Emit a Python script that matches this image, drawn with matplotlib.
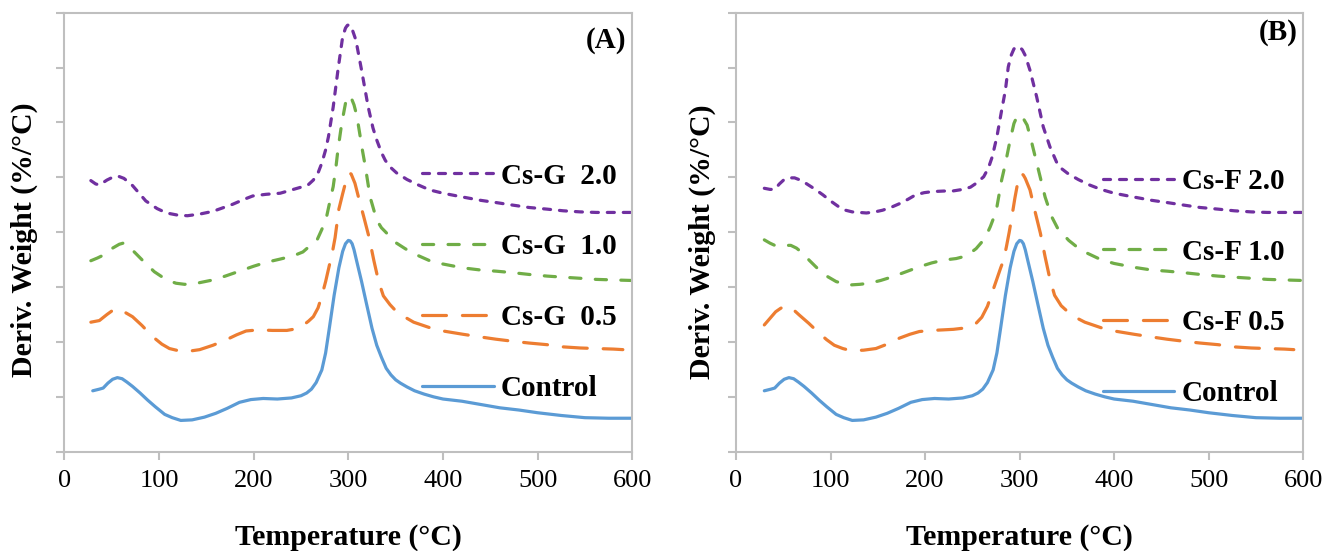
import matplotlib
matplotlib.use("Agg")
import matplotlib.pyplot as plt

plt.rcParams['font.family'] = ['Liberation Serif', 'DejaVu Serif']

# DTG curves, y in arbitrary units (curves are offset vertically)
t_ctrl = [30, 37, 41, 46, 51, 56, 61, 66, 72, 80, 88, 96, 106, 114, 123, 135, 148, 160, 172, 185,
          197, 210, 225, 240, 250, 256, 261, 266, 272, 276, 280, 285, 290, 294, 297, 300, 302, 304,
          306, 309, 314, 319, 325, 330, 335, 340, 345, 350, 355, 362, 370, 380, 390, 400, 420, 440,
          460, 480, 500, 525, 550, 575, 600]
y_ctrl = [1.11, 1.14, 1.16, 1.25, 1.32, 1.35, 1.33, 1.27, 1.19, 1.07, 0.94, 0.82, 0.68, 0.62, 0.57,
          0.58, 0.63, 0.70, 0.79, 0.90, 0.95, 0.97, 0.96, 0.98, 1.02, 1.07, 1.14, 1.26, 1.49, 1.80,
          2.26, 2.85, 3.35, 3.65, 3.79, 3.85, 3.84, 3.79, 3.68, 3.46, 3.10, 2.71, 2.25, 1.94, 1.72,
          1.52, 1.40, 1.31, 1.25, 1.18, 1.11, 1.05, 1.00, 0.96, 0.92, 0.86, 0.80, 0.76, 0.71, 0.66,
          0.62, 0.61, 0.61]

# panel A: Cs-G films
t_g05 = [28, 37, 45, 53, 60, 72, 82, 93, 103, 111, 123, 135, 143, 157, 171, 182, 192, 205, 220, 235,
         245, 252, 258, 263, 268, 272, 276, 280, 283, 286, 290, 294, 297, 299, 301, 303, 307, 311,
         316, 322, 327, 332, 337, 344, 351, 360, 369, 386, 400, 421, 440, 456, 475, 491, 510, 527,
         545, 562, 580, 590]
y_g05 = [2.36, 2.39, 2.50, 2.60, 2.58, 2.46, 2.30, 2.10, 1.96, 1.88, 1.83, 1.84, 1.86, 1.94, 2.04,
         2.13, 2.20, 2.22, 2.21, 2.21, 2.24, 2.30, 2.38, 2.46, 2.62, 2.84, 3.10, 3.40, 3.62, 3.90,
         4.42, 4.70, 4.90, 5.02, 5.08, 5.06, 4.89, 4.62, 4.30, 3.90, 3.48, 3.10, 2.84, 2.68, 2.55,
         2.45, 2.36, 2.26, 2.20, 2.14, 2.09, 2.05, 2.01, 1.98, 1.95, 1.91, 1.89, 1.88, 1.87, 1.86]

t_g10 = [28, 35, 41, 50, 58, 62, 68, 75, 83, 95, 108, 118, 127, 140, 157, 170, 185, 200, 213, 228,
         242, 252, 260, 267, 272, 277, 281, 284, 287, 289, 293, 297, 299, 301, 303, 306, 309, 312,
         315, 318, 323, 330, 335, 339, 345, 351, 360, 369, 386, 400, 421, 440, 456, 475, 491, 510,
         527, 545, 562, 580, 600]
y_g10 = [3.48, 3.53, 3.58, 3.70, 3.78, 3.80, 3.74, 3.62, 3.48, 3.28, 3.13, 3.07, 3.05, 3.07, 3.13,
         3.20, 3.29, 3.38, 3.45, 3.51, 3.57, 3.64, 3.76, 3.86, 4.05, 4.28, 4.60, 4.83, 5.20, 5.50,
         5.98, 6.35, 6.45, 6.49, 6.45, 6.32, 6.12, 5.80, 5.48, 5.19, 4.64, 4.22, 4.08, 4.01, 3.90,
         3.80, 3.70, 3.61, 3.48, 3.42, 3.35, 3.31, 3.29, 3.26, 3.23, 3.20, 3.18, 3.16, 3.14, 3.13,
         3.12]

t_g20 = [28, 33, 37, 45, 52, 57, 63, 72, 86, 98, 108, 120, 130, 143, 157, 170, 178, 190, 199, 213,
         228, 240, 252, 258, 263, 268, 272, 276, 279, 284, 289, 294, 297, 299, 301, 302, 304, 308,
         314, 321, 326, 330, 335, 339, 344, 351, 362, 374, 386, 400, 421, 440, 456, 475, 491, 510,
         527, 545, 562, 580, 600]
y_g20 = [4.94, 4.88, 4.86, 4.95, 5.01, 5.02, 4.98, 4.85, 4.57, 4.43, 4.35, 4.31, 4.30, 4.33, 4.38,
         4.46, 4.51, 4.60, 4.66, 4.69, 4.71, 4.77, 4.83, 4.87, 4.95, 5.08, 5.26, 5.50, 5.74, 6.28,
         6.95, 7.56, 7.72, 7.77, 7.78, 7.77, 7.70, 7.50, 6.95, 6.28, 5.90, 5.68, 5.45, 5.31, 5.19,
         5.08, 4.96, 4.86, 4.77, 4.71, 4.64, 4.58, 4.54, 4.49, 4.45, 4.42, 4.39, 4.37, 4.36, 4.36,
         4.36]

# panel B: Cs-F films
t_f05 = [30, 36, 42, 47, 51, 55, 60, 67, 77, 88, 96, 104, 113, 122, 135, 148, 160, 173, 184, 194,
         207, 219, 230, 240, 248, 254, 260, 266, 271, 276, 280, 283, 286, 289, 292, 295, 298, 300,
         302, 304, 306, 311, 316, 322, 327, 332, 337, 344, 351, 360, 369, 386, 400, 421, 440, 456,
         475, 491, 510, 527, 545, 562, 580, 590]
y_f05 = [2.31, 2.43, 2.55, 2.61, 2.65, 2.64, 2.60, 2.49, 2.34, 2.16, 2.04, 1.94, 1.88, 1.84, 1.85,
         1.88, 1.96, 2.07, 2.14, 2.19, 2.21, 2.22, 2.23, 2.25, 2.28, 2.34, 2.45, 2.65, 2.90, 3.15,
         3.35, 3.49, 3.73, 4.00, 4.30, 4.62, 4.90, 5.02, 5.07, 5.04, 4.98, 4.77, 4.40, 3.98, 3.55,
         3.15, 2.85, 2.66, 2.55, 2.44, 2.36, 2.26, 2.20, 2.14, 2.09, 2.05, 2.01, 1.98, 1.95, 1.91,
         1.89, 1.88, 1.87, 1.86]

t_f10 = [30, 36, 41, 50, 58, 64, 69, 78, 88, 97, 106, 114, 122, 131, 141, 153, 166, 180, 194, 207,
         219, 233, 242, 247, 254, 260, 265, 269, 273, 276, 281, 285, 290, 294, 297, 299, 301, 304,
         308, 313, 320, 327, 334, 340, 345, 352, 360, 370, 386, 400, 421, 440, 456, 475, 491, 510,
         527, 545, 562, 580, 600]
y_f10 = [3.86, 3.80, 3.76, 3.76, 3.76, 3.71, 3.64, 3.48, 3.31, 3.19, 3.10, 3.06, 3.04, 3.05, 3.07,
         3.12, 3.19, 3.28, 3.37, 3.44, 3.49, 3.52, 3.56, 3.61, 3.70, 3.82, 3.95, 4.10, 4.28, 4.46,
         4.95, 5.25, 5.68, 5.98, 6.10, 6.14, 6.13, 6.07, 5.95, 5.62, 5.13, 4.64, 4.28, 4.08, 3.98,
         3.85, 3.74, 3.63, 3.50, 3.43, 3.36, 3.31, 3.29, 3.26, 3.23, 3.20, 3.18, 3.16, 3.14, 3.13,
         3.12]

t_f20 = [30, 36, 41, 46, 51, 57, 62, 68, 74, 83, 92, 100, 109, 116, 123, 138, 147, 155, 165, 173,
         182, 190, 199, 208, 220, 229, 240, 248, 254, 258, 262, 267, 271, 276, 281, 285, 288, 291,
         294, 297, 299, 301, 303, 306, 311, 318, 325, 332, 339, 345, 351, 362, 374, 386, 400, 421,
         440, 456, 475, 491, 510, 527, 545, 562, 580, 600]
y_f20 = [4.80, 4.78, 4.78, 4.88, 4.96, 4.99, 4.99, 4.95, 4.89, 4.79, 4.68, 4.57, 4.46, 4.40, 4.37,
         4.35, 4.37, 4.40, 4.46, 4.52, 4.60, 4.68, 4.72, 4.74, 4.75, 4.75, 4.78, 4.82, 4.89, 4.95,
         5.01, 5.17, 5.37, 5.74, 6.22, 6.59, 7.01, 7.22, 7.34, 7.38, 7.38, 7.36, 7.32, 7.22, 6.95,
         6.47, 5.92, 5.56, 5.28, 5.15, 5.07, 4.96, 4.86, 4.78, 4.71, 4.64, 4.58, 4.54, 4.49, 4.45,
         4.42, 4.39, 4.37, 4.36, 4.36, 4.36]

labels_a = ["Control", "Cs-G  0.5", "Cs-G  1.0", "Cs-G  2.0"]
labels_b = ["Control", "Cs-F 0.5", "Cs-F 1.0", "Cs-F 2.0"]

colors = ["#5B9BD5", "#ED7D31", "#70AD47", "#7030A0"]
styles = ["-", (0, (7.5, 5)), (0, (3.5, 4.5)), (0, (2.2, 2.8))]
grey = "#BFBFBF"

fig = plt.figure(figsize=(13.27, 5.51), dpi=100)
ax_a = fig.add_axes([0.0485, 0.1802, 0.428, 0.7968])
ax_b = fig.add_axes([0.5546, 0.1802, 0.4275, 0.7968])

panels = [
    (ax_a, [(t_ctrl, y_ctrl), (t_g05, y_g05), (t_g10, y_g10), (t_g20, y_g20)], labels_a, "(A)",
     (0.63, 0.386), 0.937, (-0.047, 0.482)),
    (ax_b, [(t_ctrl, y_ctrl), (t_f05, y_f05), (t_f10, y_f10), (t_f20, y_f20)], labels_b, "(B)",
     (0.647, 0.374), 0.955, (-0.035, 0.478)),
]

for ax, series, labels, tag, leg_pos, tag_y, ylab_pos in panels:
    lines = []
    for (t, y), lab, c, ls in zip(series, labels, colors, styles):
        ln, = ax.plot(t, y, color=c, lw=2.3, linestyle=ls, label=lab,
                      dash_capstyle="round", solid_capstyle="round", solid_joinstyle="round")
        lines.append(ln)

    ax.set_xlim(0, 600)
    ax.set_ylim(0, 8)
    ax.set_xticks(range(0, 601, 100))
    ax.set_yticks(range(0, 9))
    ax.set_yticklabels([])
    ax.tick_params(axis="both", direction="out", length=6, width=1.5, color=grey,
                   labelsize=19, pad=7)
    for sp in ax.spines.values():
        sp.set_color(grey)
        sp.set_linewidth(1.5)

    ax.set_xlabel("Temperature (°C)", fontsize=21.5, fontweight="bold", labelpad=23)
    ax.set_ylabel("Deriv. Weight (%/°C)", fontsize=21.5, fontweight="bold")
    ax.yaxis.set_label_coords(*ylab_pos)

    ax.text(0.99, tag_y, tag, transform=ax.transAxes, ha="right", va="center",
            fontsize=21, fontweight="bold")

    ax.legend(handles=lines[::-1], loc="center left", bbox_to_anchor=leg_pos,
              frameon=False, borderpad=0, borderaxespad=0, handlelength=2.45,
              handletextpad=0.25, labelspacing=1.5,
              prop={"size": 21, "weight": "bold"})

fig.savefig("out.png", dpi=100)
